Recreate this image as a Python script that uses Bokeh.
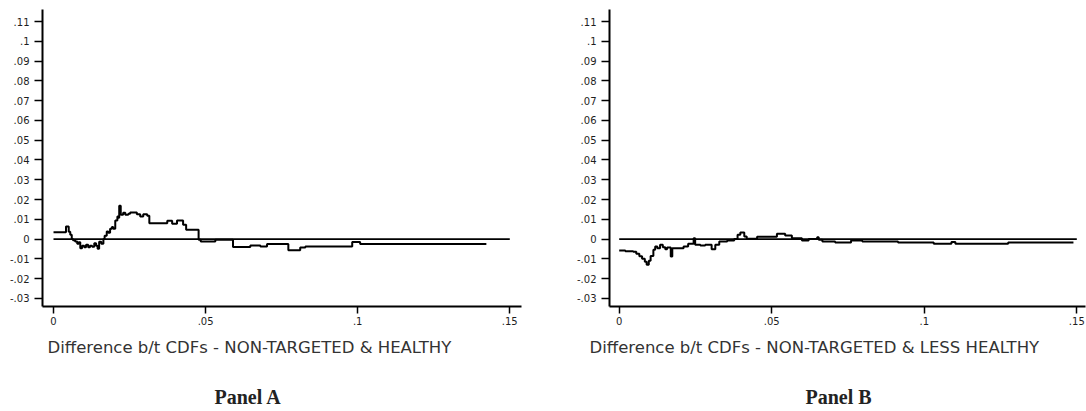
from bokeh.plotting import figure
from bokeh.layouts import row
from bokeh.models import FixedTicker, Title, Range1d
from bokeh.embed import file_html
from bokeh.resources import INLINE

# ---------------- data ----------------
# Panel A: difference between CDFs, NON-TARGETED & HEALTHY (step function)
a_x = [0.0, 0.0041, 0.0050, 0.0055, 0.0060, 0.0064, 0.0071, 0.0078, 0.0083, 0.0088,
       0.0094, 0.0101, 0.0107, 0.0114, 0.0120, 0.0127, 0.0134, 0.0140, 0.0145, 0.0150,
       0.0157, 0.0164, 0.0168, 0.0175, 0.0180, 0.0186, 0.0192, 0.0196, 0.0203, 0.0210,
       0.0214, 0.0216, 0.0221, 0.0229, 0.0236, 0.0246, 0.0252, 0.0274, 0.0285, 0.0295,
       0.0308, 0.0315, 0.0374, 0.0390, 0.0406, 0.0426, 0.0436, 0.0477, 0.0484, 0.0532,
       0.0590, 0.0647, 0.0680, 0.0702, 0.0772, 0.0811, 0.0828, 0.0982, 0.1008, 0.1423]
a_y = [0.0035, 0.0064, 0.0037, 0.0022, 0.0000, -0.0006, -0.0012, -0.0024, -0.0016, -0.0046,
       -0.0034, -0.0041, -0.0029, -0.0041, -0.0034, -0.0039, -0.0021, -0.0034, -0.0049, -0.0014,
       -0.0024, 0.0000, 0.0017, 0.0038, 0.0032, 0.0052, 0.0061, 0.0052, 0.0094, 0.0114,
       0.0108, 0.0168, 0.0123, 0.0133, 0.0123, 0.0128, 0.0135, 0.0125, 0.0114, 0.0125,
       0.0118, 0.0080, 0.0093, 0.0077, 0.0094, 0.0072, 0.0047, -0.0004, -0.0012, -0.0004,
       -0.0040, -0.0032, -0.0037, -0.0025, -0.0057, -0.0043, -0.0037, -0.0015, -0.0025, -0.0025]

# Panel B: difference between CDFs, NON-TARGETED & LESS HEALTHY (step function)
b_x = [0.0, 0.0020, 0.0046, 0.0056, 0.0066, 0.0075, 0.0084, 0.0090, 0.0097, 0.0103,
       0.0112, 0.0118, 0.0125, 0.0134, 0.0143, 0.0151, 0.0157, 0.0169, 0.0174, 0.0211,
       0.0226, 0.0244, 0.0249, 0.0266, 0.0282, 0.0303, 0.0315, 0.0328, 0.0354, 0.0377,
       0.0388, 0.0397, 0.0410, 0.0418, 0.0452, 0.0517, 0.0544, 0.0566, 0.0599, 0.0621,
       0.0649, 0.0654, 0.0666, 0.0708, 0.0760, 0.0797, 0.0914, 0.1031, 0.1089, 0.1102,
       0.1275, 0.1489]
b_y = [-0.0058, -0.0062, -0.0064, -0.0074, -0.0087, -0.0100, -0.0115, -0.0130, -0.0110, -0.0085,
       -0.0054, -0.0037, -0.0047, -0.0029, -0.0041, -0.0051, -0.0043, -0.0088, -0.0046, -0.0037,
       -0.0024, 0.0004, -0.0029, -0.0032, -0.0029, -0.0051, -0.0029, -0.0012, -0.0007, 0.0000,
       0.0022, 0.0033, 0.0013, 0.0002, 0.0012, 0.0027, 0.0018, 0.0004, -0.0007, 0.0000,
       0.0009, -0.0004, -0.0012, -0.0017, -0.0007, -0.0012, -0.0017, -0.0024, -0.0015, -0.0024,
       -0.0017, -0.0017]

# zero reference line
ref_x = [0.0, 0.15]
ref_y = [0.0, 0.0]

# ticks
y_ticks = [-0.03, -0.02, -0.01, 0.0, 0.01, 0.02, 0.03, 0.04, 0.05, 0.06, 0.07, 0.08, 0.09, 0.10, 0.11]
y_labels = ["-.03", "-.02", "-.01", "0", ".01", ".02", ".03", ".04", ".05", ".06", ".07", ".08", ".09", ".1", ".11"]
x_ticks = [0.0, 0.05, 0.10, 0.15]
x_labels = ["0", ".05", ".1", ".15"]

x_label_a = "Difference b/t CDFs - NON-TARGETED & HEALTHY"
x_label_b = "Difference b/t CDFs - NON-TARGETED & LESS HEALTHY"
panel_a = "Panel A"
panel_b = "Panel B"

TICK_FONT = "DejaVu Sans"
TEXT_COLOR = "#1e1e1e"


def make_panel(xs, ys, xlabel, ptitle, x_start, x_end, fw, mbl, mbr, lab_off, title_off):
    p = figure(frame_width=fw, frame_height=297,
               x_range=Range1d(x_start, x_end), y_range=Range1d(-0.0341, 0.1161),
               output_backend="svg", toolbar_location=None,
               min_border_left=mbl, min_border_right=mbr,
               min_border_top=9, min_border_bottom=96)
    p.grid.visible = False
    p.outline_line_color = None
    p.background_fill_color = "white"
    p.border_fill_color = "white"

    p.line(ref_x, ref_y, line_color="black", line_width=1.8)
    p.step(xs, ys, mode="after", line_color="black", line_width=2)

    for ax in (p.xaxis[0], p.yaxis[0]):
        ax.axis_line_color = "black"
        ax.axis_line_width = 2
        ax.major_tick_line_color = "black"
        ax.major_tick_line_width = 1.5
        ax.minor_tick_line_color = None
        ax.major_tick_in = 0
        ax.major_label_text_font = TICK_FONT
        ax.major_label_text_font_size = "10px"
        ax.major_label_text_color = TEXT_COLOR

    p.yaxis.ticker = FixedTicker(ticks=y_ticks)
    p.yaxis.major_label_overrides = {t: l for t, l in zip(y_ticks, y_labels)}
    p.yaxis.major_tick_out = 8
    p.yaxis.major_label_standoff = 5

    p.xaxis.ticker = FixedTicker(ticks=x_ticks)
    p.xaxis.major_label_overrides = {t: l for t, l in zip(x_ticks, x_labels)}
    p.xaxis.major_tick_out = 7
    p.xaxis.major_label_standoff = 3

    t1 = Title(text=xlabel, align="left", offset=lab_off, standoff=16,
               text_font=TICK_FONT, text_font_size="16.5px", text_font_style="normal",
               text_color="#333333")
    p.add_layout(t1, "below")
    t2 = Title(text=ptitle, align="left", offset=title_off, standoff=38,
               text_font="Liberation Serif", text_font_size="20px", text_font_style="bold",
               text_color="#222222")
    p.add_layout(t2, "below")
    return p


pa = make_panel(a_x, a_y, x_label_a, panel_a, -0.00362, 0.15385, 479, 42, 39, 5, 172)
pb = make_panel(b_x, b_y, x_label_b, panel_b, -0.00318, 0.15285, 476, 49, 1, -20, 196)

layout = row(pa, pb)
open("out.html", "w").write(file_html(layout, INLINE))
